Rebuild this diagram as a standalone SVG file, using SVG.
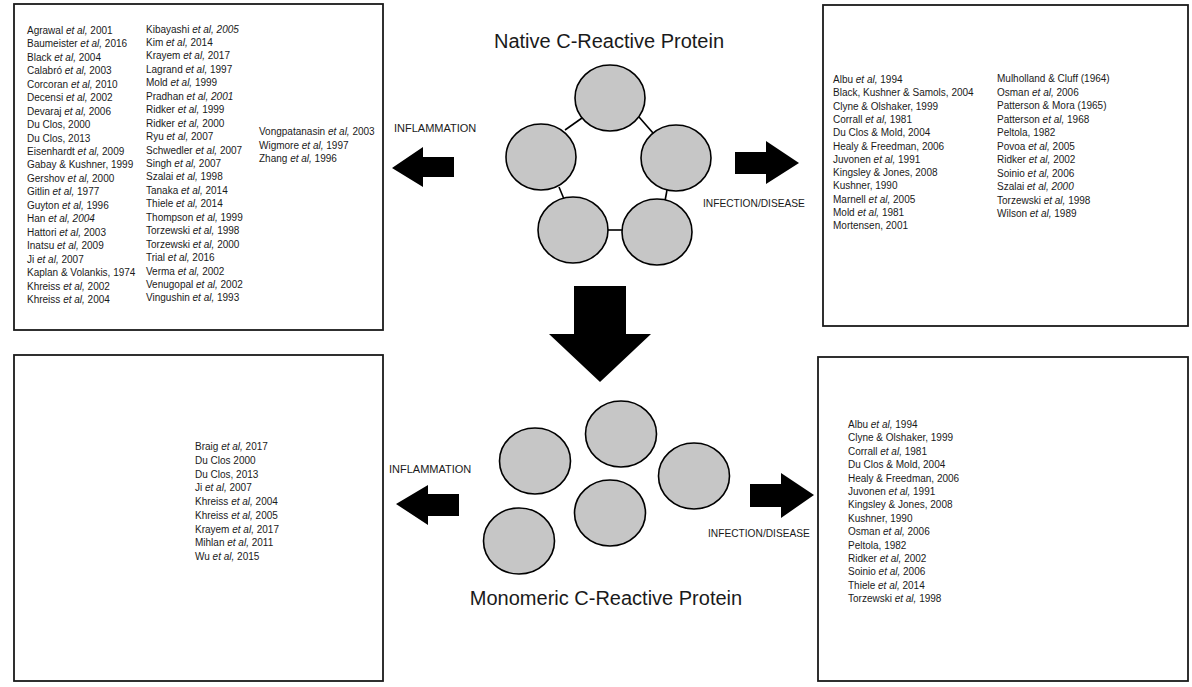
<svg xmlns="http://www.w3.org/2000/svg" width="1192" height="687" viewBox="0 0 1192 687">
<style>
.box{fill:none;stroke:#1a1a1a;stroke-width:1.8}
.ref{font-family:"Liberation Sans",Arial,sans-serif;font-size:10px;fill:#1a1a1a}
.i{font-style:italic}
.lbl{font-family:"Liberation Sans",Arial,sans-serif;fill:#1a1a1a}
.title{font-family:"Liberation Sans",Arial,sans-serif;font-size:20px;fill:#1a1a1a}
.sub{fill:#c6c6c6;stroke:#000;stroke-width:1.6}
.link{stroke:#000;stroke-width:1.6;fill:none}
.arrow{fill:#000}
</style>
<rect width="1192" height="687" fill="#fff"/>

<g id="box-native-inflammation">
<rect class="box" x="14" y="4" width="369" height="326"/>
<text class="ref" y="20.55">
<tspan x="27" dy="13.45">Agrawal <tspan class="i">et al,</tspan> 2001</tspan>
<tspan x="27" dy="13.45">Baumeister <tspan class="i">et al,</tspan> 2016</tspan>
<tspan x="27" dy="13.45">Black <tspan class="i">et al,</tspan> 2004</tspan>
<tspan x="27" dy="13.45">Calabró <tspan class="i">et al,</tspan> 2003</tspan>
<tspan x="27" dy="13.45">Corcoran <tspan class="i">et al,</tspan> 2010</tspan>
<tspan x="27" dy="13.45">Decensi <tspan class="i">et al,</tspan> 2002</tspan>
<tspan x="27" dy="13.45">Devaraj <tspan class="i">et al,</tspan> 2006</tspan>
<tspan x="27" dy="13.45">Du Clos, 2000</tspan>
<tspan x="27" dy="13.45">Du Clos, 2013</tspan>
<tspan x="27" dy="13.45">Eisenhardt <tspan class="i">et al,</tspan> 2009</tspan>
<tspan x="27" dy="13.45">Gabay &amp; Kushner, 1999</tspan>
<tspan x="27" dy="13.45">Gershov <tspan class="i">et al,</tspan> 2000</tspan>
<tspan x="27" dy="13.45">Gitlin <tspan class="i">et al,</tspan> 1977</tspan>
<tspan x="27" dy="13.45">Guyton <tspan class="i">et al,</tspan> 1996</tspan>
<tspan x="27" dy="13.45">Han <tspan class="i">et al, 2004</tspan></tspan>
<tspan x="27" dy="13.45">Hattori <tspan class="i">et al,</tspan> 2003</tspan>
<tspan x="27" dy="13.45">Inatsu <tspan class="i">et al,</tspan> 2009</tspan>
<tspan x="27" dy="13.45">Ji <tspan class="i">et al,</tspan> 2007</tspan>
<tspan x="27" dy="13.45">Kaplan &amp; Volankis, 1974</tspan>
<tspan x="27" dy="13.45">Khreiss <tspan class="i">et al,</tspan> 2002</tspan>
<tspan x="27" dy="13.45">Khreiss <tspan class="i">et al,</tspan> 2004</tspan>
</text>
<text class="ref" y="19.05">
<tspan x="146" dy="13.45">Kibayashi <tspan class="i">et al, 2005</tspan></tspan>
<tspan x="146" dy="13.45">Kim <tspan class="i">et al,</tspan> 2014</tspan>
<tspan x="146" dy="13.45">Krayem <tspan class="i">et al,</tspan> 2017</tspan>
<tspan x="146" dy="13.45">Lagrand <tspan class="i">et al,</tspan> 1997</tspan>
<tspan x="146" dy="13.45">Mold <tspan class="i">et al,</tspan> 1999</tspan>
<tspan x="146" dy="13.45">Pradhan <tspan class="i">et al, 2001</tspan></tspan>
<tspan x="146" dy="13.45">Ridker <tspan class="i">et al,</tspan> 1999</tspan>
<tspan x="146" dy="13.45">Ridker <tspan class="i">et al,</tspan> 2000</tspan>
<tspan x="146" dy="13.45">Ryu <tspan class="i">et al,</tspan> 2007</tspan>
<tspan x="146" dy="13.45">Schwedler <tspan class="i">et al,</tspan> 2007</tspan>
<tspan x="146" dy="13.45">Singh <tspan class="i">et al,</tspan> 2007</tspan>
<tspan x="146" dy="13.45">Szalai <tspan class="i">et al,</tspan> 1998</tspan>
<tspan x="146" dy="13.45">Tanaka <tspan class="i">et al,</tspan> 2014</tspan>
<tspan x="146" dy="13.45">Thiele <tspan class="i">et al,</tspan> 2014</tspan>
<tspan x="146" dy="13.45">Thompson <tspan class="i">et al,</tspan> 1999</tspan>
<tspan x="146" dy="13.45">Torzewski <tspan class="i">et al,</tspan> 1998</tspan>
<tspan x="146" dy="13.45">Torzewski <tspan class="i">et al,</tspan> 2000</tspan>
<tspan x="146" dy="13.45">Trial <tspan class="i">et al,</tspan> 2016</tspan>
<tspan x="146" dy="13.45">Verma <tspan class="i">et al,</tspan> 2002</tspan>
<tspan x="146" dy="13.45">Venugopal <tspan class="i">et al,</tspan> 2002</tspan>
<tspan x="146" dy="13.45">Vingushin <tspan class="i">et al,</tspan> 1993</tspan>
</text>
<text class="ref" y="121.5">
<tspan x="259" dy="13.5">Vongpatanasin <tspan class="i">et al,</tspan> 2003</tspan>
<tspan x="259" dy="13.5">Wigmore <tspan class="i">et al,</tspan> 1997</tspan>
<tspan x="259" dy="13.5">Zhang <tspan class="i">et al,</tspan> 1996</tspan>
</text>
</g>

<g id="box-native-infection">
<rect class="box" x="823" y="5" width="365" height="321"/>
<text class="ref" y="69.7">
<tspan x="833" dy="13.3">Albu <tspan class="i">et al,</tspan> 1994</tspan>
<tspan x="833" dy="13.3">Black, Kushner &amp; Samols, 2004</tspan>
<tspan x="833" dy="13.3">Clyne &amp; Olshaker, 1999</tspan>
<tspan x="833" dy="13.3">Corrall <tspan class="i">et al,</tspan> 1981</tspan>
<tspan x="833" dy="13.3">Du Clos &amp; Mold, 2004</tspan>
<tspan x="833" dy="13.3">Healy &amp; Freedman, 2006</tspan>
<tspan x="833" dy="13.3">Juvonen <tspan class="i">et al,</tspan> 1991</tspan>
<tspan x="833" dy="13.3">Kingsley &amp; Jones, 2008</tspan>
<tspan x="833" dy="13.3">Kushner, 1990</tspan>
<tspan x="833" dy="13.3">Marnell <tspan class="i">et al,</tspan> 2005</tspan>
<tspan x="833" dy="13.3">Mold <tspan class="i">et al,</tspan> 1981</tspan>
<tspan x="833" dy="13.3">Mortensen, 2001</tspan>
</text>
<text class="ref" y="68.5">
<tspan x="997" dy="13.5">Mulholland &amp; Cluff (1964)</tspan>
<tspan x="997" dy="13.5">Osman <tspan class="i">et al,</tspan> 2006</tspan>
<tspan x="997" dy="13.5">Patterson &amp; Mora (1965)</tspan>
<tspan x="997" dy="13.5">Patterson <tspan class="i">et al,</tspan> 1968</tspan>
<tspan x="997" dy="13.5">Peltola, 1982</tspan>
<tspan x="997" dy="13.5">Povoa <tspan class="i">et al,</tspan> 2005</tspan>
<tspan x="997" dy="13.5">Ridker <tspan class="i">et al,</tspan> 2002</tspan>
<tspan x="997" dy="13.5">Soinio <tspan class="i">et al,</tspan> 2006</tspan>
<tspan x="997" dy="13.5">Szalai <tspan class="i">et al, 2000</tspan></tspan>
<tspan x="997" dy="13.5">Torzewski <tspan class="i">et al,</tspan> 1998</tspan>
<tspan x="997" dy="13.5">Wilson <tspan class="i">et al,</tspan> 1989</tspan>
</text>
</g>

<g id="box-mono-inflammation">
<rect class="box" x="14" y="355" width="369" height="326"/>
<text class="ref" y="436.25">
<tspan x="195" dy="13.75">Braig <tspan class="i">et al,</tspan> 2017</tspan>
<tspan x="195" dy="13.75">Du Clos 2000</tspan>
<tspan x="195" dy="13.75">Du Clos, 2013</tspan>
<tspan x="195" dy="13.75">Ji <tspan class="i">et al,</tspan> 2007</tspan>
<tspan x="195" dy="13.75">Khreiss <tspan class="i">et al,</tspan> 2004</tspan>
<tspan x="195" dy="13.75">Khreiss <tspan class="i">et al,</tspan> 2005</tspan>
<tspan x="195" dy="13.75">Krayem <tspan class="i">et al,</tspan> 2017</tspan>
<tspan x="195" dy="13.75">Mihlan <tspan class="i">et al,</tspan> 2011</tspan>
<tspan x="195" dy="13.75">Wu <tspan class="i">et al,</tspan> 2015</tspan>
</text>
</g>

<g id="box-mono-infection">
<rect class="box" x="818" y="357" width="370" height="324"/>
<text class="ref" y="414.6">
<tspan x="848" dy="13.4">Albu <tspan class="i">et al,</tspan> 1994</tspan>
<tspan x="848" dy="13.4">Clyne &amp; Olshaker, 1999</tspan>
<tspan x="848" dy="13.4">Corrall <tspan class="i">et al,</tspan> 1981</tspan>
<tspan x="848" dy="13.4">Du Clos &amp; Mold, 2004</tspan>
<tspan x="848" dy="13.4">Healy &amp; Freedman, 2006</tspan>
<tspan x="848" dy="13.4">Juvonen <tspan class="i">et al,</tspan> 1991</tspan>
<tspan x="848" dy="13.4">Kingsley &amp; Jones, 2008</tspan>
<tspan x="848" dy="13.4">Kushner, 1990</tspan>
<tspan x="848" dy="13.4">Osman <tspan class="i">et al,</tspan> 2006</tspan>
<tspan x="848" dy="13.4">Peltola, 1982</tspan>
<tspan x="848" dy="13.4">Ridker <tspan class="i">et al,</tspan> 2002</tspan>
<tspan x="848" dy="13.4">Soinio <tspan class="i">et al,</tspan> 2006</tspan>
<tspan x="848" dy="13.4">Thiele <tspan class="i">et al,</tspan> 2014</tspan>
<tspan x="848" dy="13.4">Torzewski <tspan class="i">et al,</tspan> 1998</tspan>
</text>
</g>

<g id="native-crp">
<text class="title" x="609" y="48" text-anchor="middle">Native C-Reactive Protein</text>
<line class="link" x1="565" y1="130" x2="582" y2="118"/>
<line class="link" x1="639" y1="117" x2="653" y2="133"/>
<line class="link" x1="559" y1="187" x2="564" y2="199"/>
<line class="link" x1="667" y1="190" x2="665" y2="201"/>
<line class="link" x1="607" y1="230" x2="623" y2="230"/>
<ellipse class="sub" cx="610" cy="98" rx="35" ry="33"/>
<ellipse class="sub" cx="541" cy="157" rx="35" ry="33"/>
<ellipse class="sub" cx="676" cy="158" rx="35" ry="33"/>
<ellipse class="sub" cx="573" cy="230" rx="35" ry="33"/>
<ellipse class="sub" cx="657" cy="232" rx="35" ry="33"/>
</g>

<g id="monomeric-crp">
<ellipse class="sub" cx="535" cy="461" rx="35.5" ry="33"/>
<ellipse class="sub" cx="621" cy="434" rx="35.5" ry="33"/>
<ellipse class="sub" cx="694" cy="476" rx="35.5" ry="33"/>
<ellipse class="sub" cx="610" cy="513" rx="35.5" ry="33"/>
<ellipse class="sub" cx="519" cy="541" rx="35.5" ry="33"/>
<text class="title" x="606" y="605" text-anchor="middle">Monomeric C-Reactive Protein</text>
</g>

<g id="connectors">
<polygon class="arrow" points="392,168 423,147 423,157 454,157 454,177 423,177 423,187"/>
<polygon class="arrow" points="735,152 766,152 766,141 799,163 766,184 766,174 735,174"/>
<polygon class="arrow" points="574,286 626,286 626,334 651,334 600,382 549,334 574,334"/>
<polygon class="arrow" points="396,504 428,485 428,494 459,494 459,516 428,516 428,525"/>
<polygon class="arrow" points="750,484 781,484 781,473 814,495 781,518 781,507 750,507"/>
<text class="lbl" x="394" y="132" font-size="11">INFLAMMATION</text>
<text class="lbl" x="703" y="207" font-size="10.2">INFECTION/DISEASE</text>
<text class="lbl" x="389" y="473" font-size="11">INFLAMMATION</text>
<text class="lbl" x="708" y="537" font-size="10.2">INFECTION/DISEASE</text>
</g>
</svg>
